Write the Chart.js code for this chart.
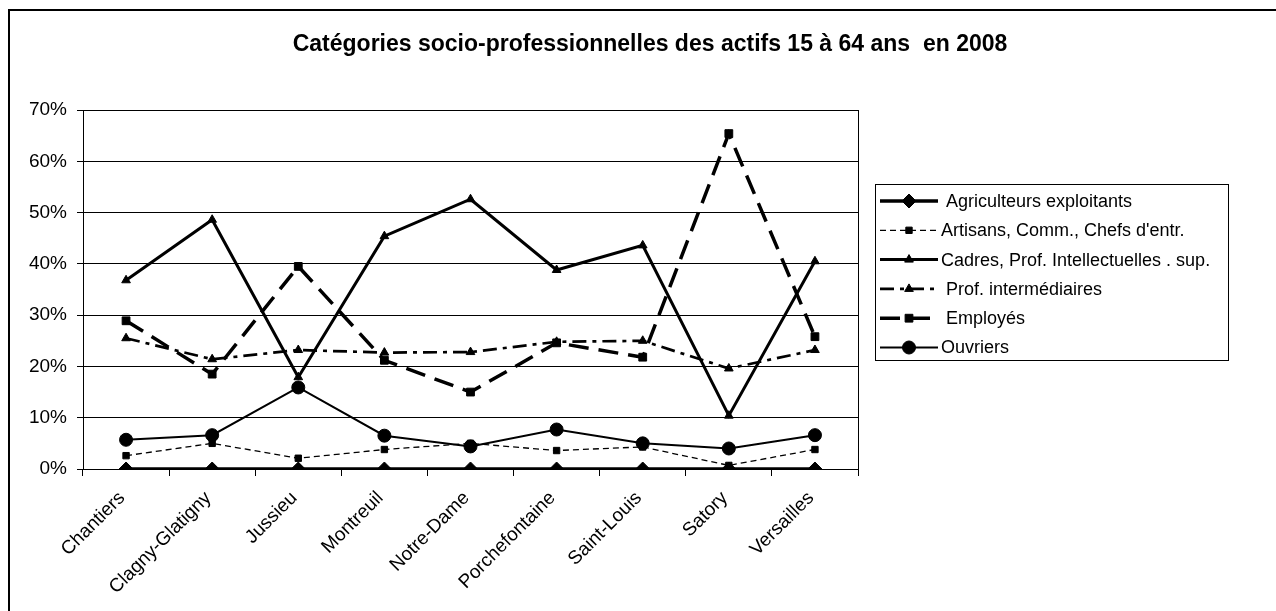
<!DOCTYPE html>
<html><head><meta charset="utf-8">
<script src="https://cdn.jsdelivr.net/npm/chart.js@4/dist/chart.umd.min.js"></script>
<style>html,body{margin:0;padding:0;background:#fff;overflow:hidden}canvas{display:block}</style>
</head><body>
<canvas id="c" width="1276" height="611"></canvas>
<script>
const chartTitle = 'Catégories socio-professionnelles des actifs 15 à 64 ans  en 2008';
const categories = ['Chantiers','Clagny-Glatigny','Jussieu','Montreuil','Notre-Dame','Porchefontaine','Saint-Louis','Satory','Versailles'];
const seriesNames = [' Agriculteurs exploitants','Artisans, Comm., Chefs d\'entr.','Cadres, Prof. Intellectuelles . sup.',' Prof. intermédiaires',' Employés','Ouvriers'];
const agriculteurs = [0, 0, 0, 0, 0, 0, 0, 0, 0];
const artisans     = [2.6, 5.0, 2.1, 3.8, 5.0, 3.6, 4.3, 0.7, 3.8];
const cadres       = [36.8, 48.6, 17.9, 45.4, 52.6, 38.8, 43.6, 10.4, 40.5];
const profInter    = [25.5, 21.4, 23.2, 22.7, 22.8, 24.8, 25.0, 19.6, 23.2];
const employes     = [28.9, 18.5, 39.5, 21.2, 15.0, 24.6, 21.8, 65.4, 25.8];
const ouvriers     = [5.7, 6.6, 15.9, 6.5, 4.4, 7.7, 5.0, 4.0, 6.6];
const yMin = 0, yMax = 70, yStep = 10;

const FONT = '"Liberation Sans", Arial, Helvetica, sans-serif';
const styles = [
  {w:3.5, dash:[], ps:'rectRot', r:7},
  {w:1.3, dash:[6,4], ps:'rect', r:4.5},
  {w:3, dash:[], ps:'triangle', r:5},
  {w:2.7, dash:[14,6,4,6], ps:'triangle', r:5},
  {w:3.5, dash:[20,10], ps:'rect', r:5.5},
  {w:2, dash:[], ps:'circle', r:6.5}
];
const seriesData = [agriculteurs, artisans, cadres, profInter, employes, ouvriers];

const datasets = seriesData.map((d, i) => ({
  label: seriesNames[i],
  data: d,
  borderColor: '#000',
  backgroundColor: '#000',
  borderWidth: styles[i].w,
  borderDash: styles[i].dash,
  pointStyle: styles[i].ps,
  pointRadius: styles[i].r,
  pointHoverRadius: styles[i].r,
  pointBackgroundColor: '#000',
  pointBorderColor: '#000',
  pointBorderWidth: 1,
  tension: 0,
  fill: false
}));

const decor = {
  id: 'decor',
  beforeDraw(chart) {
    const ctx = chart.ctx;
    ctx.save();
    ctx.fillStyle = '#fff';
    ctx.fillRect(0, 0, chart.width, chart.height);
    ctx.strokeStyle = '#000';
    ctx.lineWidth = 2;
    ctx.strokeRect(9, 10, 1400, 800);
    ctx.restore();
  },
  afterDraw(chart) {
    const ctx = chart.ctx;
    const a = chart.chartArea;
    ctx.save();
    ctx.strokeStyle = '#000';
    ctx.lineWidth = 1;
    ctx.setLineDash([]);
    ctx.beginPath();
    ctx.moveTo(Math.round(a.right) + 0.5, a.top);
    ctx.lineTo(Math.round(a.right) + 0.5, a.bottom);
    ctx.stroke();
    ctx.fillStyle = '#000';
    ctx.font = 'bold 23px ' + FONT;
    ctx.textAlign = 'center';
    ctx.textBaseline = 'middle';
    ctx.fillText(chartTitle, 650, 45);
    const L = {x: 875, y: 184, w: 353, h: 176, y0: 201, dy: 29.3, x0: 880, x1: 938, tx: 941};
    ctx.lineWidth = 1;
    ctx.strokeRect(L.x + 0.5, L.y + 0.5, L.w, L.h);
    ctx.font = '18px ' + FONT;
    ctx.textAlign = 'left';
    chart.data.datasets.forEach((ds, i) => {
      const y = L.y0 + i * L.dy;
      ctx.save();
      ctx.strokeStyle = '#000';
      ctx.lineWidth = ds.borderWidth;
      ctx.setLineDash(ds.borderDash || []);
      ctx.beginPath();
      ctx.moveTo(L.x0, y);
      ctx.lineTo(L.x1, y);
      ctx.stroke();
      ctx.setLineDash([]);
      ctx.fillStyle = '#000';
      ctx.lineWidth = 1;
      if (Chart.helpers && Chart.helpers.drawPoint) {
        Chart.helpers.drawPoint(ctx, {pointStyle: ds.pointStyle, radius: ds.pointRadius, rotation: 0, borderWidth: 1}, (L.x0 + L.x1) / 2, y);
      }
      ctx.restore();
      ctx.fillStyle = '#000';
      ctx.textBaseline = 'middle';
      ctx.fillText(ds.label, L.tx, y + 1);
    });
    ctx.restore();
  }
};

new Chart(document.getElementById('c'), {
  type: 'line',
  data: { labels: categories, datasets },
  options: {
    responsive: false,
    animation: false,
    layout: { padding: { top: 110, right: 418, bottom: 0, left: 0 } },
    plugins: { legend: { display: false }, title: { display: false }, tooltip: { enabled: false } },
    scales: {
      x: {
        type: 'category',
        offset: true,
        grid: { display: true, drawOnChartArea: false, drawTicks: true, tickLength: 7, color: '#000', offset: true },
        border: { display: true, color: '#000', width: 1 },
        ticks: { minRotation: 45, maxRotation: 45, autoSkip: false, color: '#000', padding: 11, labelOffset: -4, font: { size: 19, family: FONT } },
        afterFit: s => { s.height = 142; }
      },
      y: {
        min: yMin, max: yMax,
        ticks: { stepSize: yStep, color: '#000', padding: 10, font: { size: 19, family: FONT }, callback: v => v + '%' },
        grid: { color: '#000', lineWidth: 1, tickLength: 6, drawTicks: true },
        border: { display: true, color: '#000', width: 1 },
        afterFit: s => { s.width = 83; }
      }
    }
  },
  plugins: [decor]
});
</script>
</body></html>
